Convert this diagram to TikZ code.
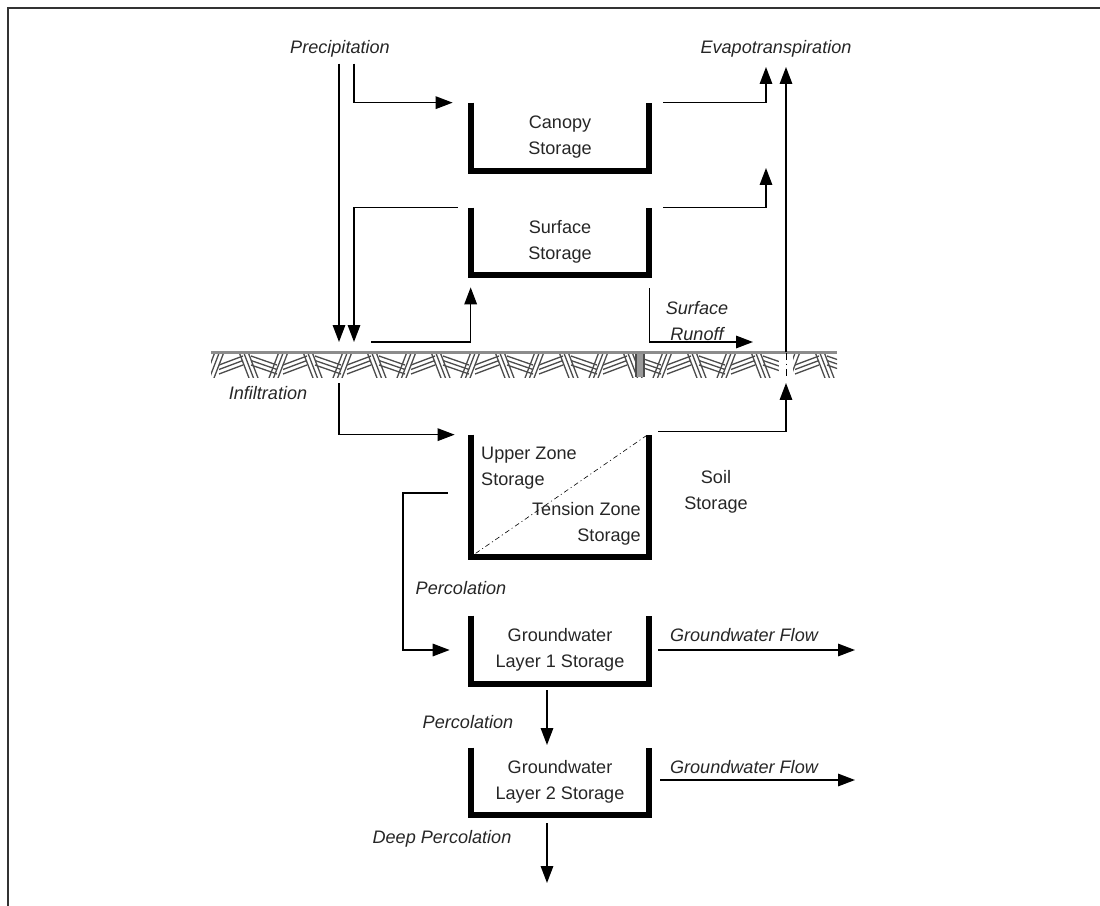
\documentclass[tikz,border=0pt]{standalone}
\usepackage{fontspec}
\setmainfont{Liberation Sans}
\usepackage{tikz}
\usetikzlibrary{positioning,
                calc,
                arrows.meta}
\newcommand{\tankfont}{\fontsize{10.3}{14.7}\selectfont}

\begin{document}
\begin{tikzpicture}[x=0.02cm,y=-0.02cm]

\tikzset{
storetank/.style={
rectangle,
inner sep=0pt,
minimum width=3.56cm,
align=center,
font=\tankfont,
text=black!85
},
tankwall/.style={
line width=0.12cm
},
flowline/.style={
line width=0.032cm,
-{Triangle[length=0.34cm,width=0.25cm]}
},
flowlabel/.style={
align=center,
font=\tankfont\itshape,
text=black!85
},
tanklabel/.style={
font=\tankfont,
text=black!85
},
soilhatch/.style={
line width=0.026cm,
black!70
}
}

\useasboundingbox (0,0) rectangle (1100,906);
\draw[line width=0.035cm,black!80] (8,906) -- (8,8) -- (1100,8);

%--------------------------------------------------
% TOP LABELS
%--------------------------------------------------

\node[flowlabel] (prec) at (340,49) {Precipitation};
\node[flowlabel] (evap) at (776,49) {Evapotranspiration};

%--------------------------------------------------
% STORAGES
%--------------------------------------------------

\node[storetank,minimum height=1.36cm] (canopy) at (560,137)
{Canopy\\Storage};
\node[storetank,minimum height=1.34cm] (surface) at (560,241.5)
{Surface\\Storage};
\node[storetank,minimum height=2.44cm] (soil) at (560,496) {};
\node[storetank,minimum height=1.36cm] (gwone) at (560,650)
{Groundwater\\Layer 1 Storage};
\node[storetank,minimum height=1.34cm] (gwtwo) at (560,781.5)
{Groundwater\\Layer 2 Storage};

\foreach \tank in {canopy,surface,soil,gwone,gwtwo}
\draw[tankwall] (\tank.north west) |- (\tank.south east)
-- (\tank.north east);

\draw[line width=0.012cm,dash pattern=on 2.8pt off 1.7pt on 0.6pt off 1.7pt]
($(soil.south west)+(5,-4)$) -- ($(soil.north east)+(-3,1)$);

\node[tanklabel,align=left,anchor=west] (upperzone) at (475,468)
{Upper Zone\\Storage};
\node[tanklabel,align=right,anchor=east] (tensionzone) at (647,523.5)
{Tension Zone\\Storage};
\node[tanklabel,align=center] (soillabel) at (716,492)
{Soil\\Storage};

%--------------------------------------------------
% GROUND SURFACE
%--------------------------------------------------

\begin{scope}
\clip (211,351) rectangle (837,377);
\foreach \x in {205,269,...,840}{
\foreach \d in {0,4.5,9}{
\draw[soilhatch] (\x+\d,378) -- (\x+10+\d,352);
\draw[soilhatch] (\x+14,365+\d) -- (\x+38,356+\d);
\draw[soilhatch] (\x+34+\d,352) -- (\x+44+\d,378);
\draw[soilhatch] (\x+46,356+\d) -- (\x+72,365+\d);
}
}
\end{scope}
\fill[black!40] (637,353) rectangle (643,377);
\draw[soilhatch] (636,353) -- (636,377) (644,353) -- (644,377);
\draw[line width=0.06cm,black!45] (211,352) -- (837,352);
\fill[white] (779,354) rectangle (793,378);
\draw[line width=0.02cm,dash pattern=on 4pt off 2pt on 1pt off 2pt]
(786,353) -- (786,378);

%--------------------------------------------------
% FLOWS ABOVE GROUND
%--------------------------------------------------

\coordinate (precfall) at (339,342);
\coordinate (throughfall) at (354,342);
\coordinate (surfin) at (371,342);
\coordinate (canopyet) at (766,67);
\coordinate (surfaceet) at (766,168);
\coordinate (totalet) at (786,67);
\coordinate (runoff) at (753,342);

\draw[flowline] (prec.south -| precfall) -- (precfall);
\draw[flowline] (prec.south -| throughfall)
|- ([xshift=-0.36cm]canopy.north west);
\draw[flowline] ([xshift=-0.26cm]surface.north west) -| (throughfall);
\draw[flowline] (surfin) -| ([yshift=-0.24cm]surface.south west);
\draw[flowline] ([xshift=0.28cm]canopy.north east) -| (canopyet);
\draw[flowline] ([xshift=0.28cm]surface.north east) -| (surfaceet);
\draw[flowline] ([yshift=-0.26cm]surface.south east) |- (runoff);
\draw[flowline] (totalet |- 0,352) -- (totalet);

\node[flowlabel] (runofflabel) at (697,321) {Surface\\Runoff};

%--------------------------------------------------
% FLOWS BELOW GROUND
%--------------------------------------------------

\coordinate (infil) at (339,383);
\coordinate (soilet) at (786,383);
\coordinate (perccorner) at (403,650);
\coordinate (gwoutone) at (855,650);
\coordinate (gwouttwo) at (855,780);
\coordinate (perctwo) at (547,745);
\coordinate (deepperc) at (547,883);

\draw[flowline] (infil) |- ([xshift=-0.32cm]soil.north west);
\draw[flowline] ([xshift=0.18cm,yshift=0.06cm]soil.north east) -| (soilet);
\draw[flowline] ([xshift=-0.46cm,yshift=0.06cm]soil.west) -| (perccorner)
-- ([xshift=-0.42cm]gwone.west);
\draw[flowline] ([xshift=0.18cm]gwone.east) -- (gwoutone);
\draw[flowline] ([xshift=0.22cm]gwouttwo -| gwtwo.east) -- (gwouttwo);
\draw[flowline] ($(perctwo |- gwone.south)+(0,6)$) -- (perctwo);
\draw[flowline] ($(deepperc |- gwtwo.south)+(0,8)$) -- (deepperc);

\node[flowlabel] (infillabel) at (268,393) {Infiltration};
\node[flowlabel] (percone) at (461,588) {Percolation};
\node[flowlabel] (percolabel) at (468,722) {Percolation};
\node[flowlabel] (deeplabel) at (442,839) {Deep Percolation};
\node[flowlabel] (gwflowone) at (744,635) {Groundwater Flow};
\node[flowlabel] (gwflowtwo) at (744,767) {Groundwater Flow};

\end{tikzpicture}
\end{document}
